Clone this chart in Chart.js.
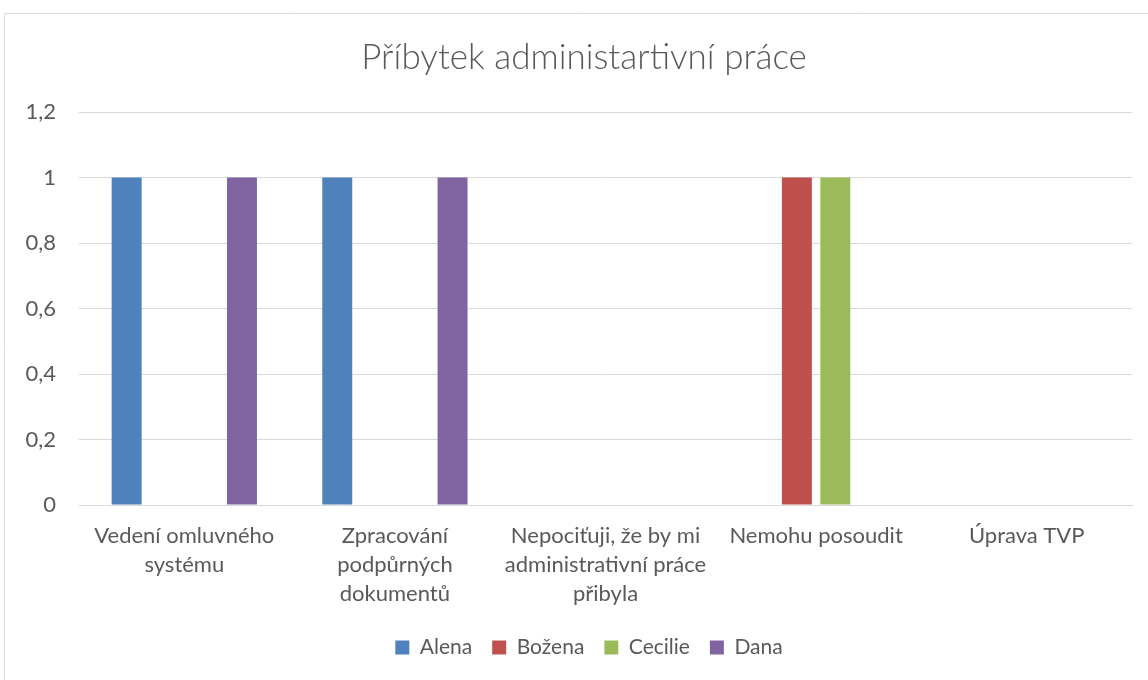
<!DOCTYPE html>
<html>
<head>
<meta charset="utf-8">
<script src="https://cdn.jsdelivr.net/npm/chart.js@4.4.1/dist/chart.umd.min.js"></script>
<style>
  html, body { margin: 0; padding: 0; background: #ffffff; }
  #wrap { position: relative; width: 1148px; height: 680px; }
  canvas { display: block; }
</style>
</head>
<body>
<div id="wrap"><canvas id="c" width="1148" height="680"></canvas></div>
<script>
// ---- data ----
const chartTitle = 'Příbytek administartivní práce';
const categories = [
  ['Vedení omluvného', 'systému'],
  ['Zpracování', 'podpůrných', 'dokumentů'],
  ['Nepociťuji, že by mi', 'administrativní práce', 'přibyla'],
  ['Nemohu posoudit'],
  ['Úprava TVP']
];
const seriesNames = ['Alena', 'Božena', 'Cecilie', 'Dana'];
const alena   = [1, 1, 0, 0, 0];
const bozena  = [0, 0, 0, 1, 0];
const cecilie = [0, 0, 0, 1, 0];
const dana    = [1, 1, 0, 0, 0];
const yMin = 0, yMax = 1.2, yStep = 0.2;

const colors = ['#4f81bd', '#c0504d', '#9bbb59', '#8064a2'];
const seriesValues = [alena, bozena, cecilie, dana];
const textColor = '#595959';
const gridColor = '#d9d9d9';
const fontFamily = 'Lato, "Open Sans", sans-serif';

const borderPlugin = {
  id: 'outerBorder',
  beforeDraw(chart) {
    const ctx = chart.ctx;
    ctx.save();
    ctx.fillStyle = '#ffffff';
    ctx.fillRect(0, 0, chart.width, chart.height);
    ctx.strokeStyle = gridColor;
    ctx.lineWidth = 1;
    ctx.beginPath();
    ctx.moveTo(chart.width + 2, 13.5);
    ctx.lineTo(4.5, 13.5);
    ctx.lineTo(4.5, chart.height + 2);
    ctx.stroke();
    ctx.restore();
  }
};

// Excel places title and legend slightly right of the canvas centre
const shiftPlugin = {
  id: 'shiftBoxes',
  afterLayout(chart) {
    if (chart.titleBlock) { chart.titleBlock.left += 16; chart.titleBlock.right += 16; }
    if (chart.legend) { chart.legend.left += 21; chart.legend.right += 21; }
  }
};

new Chart(document.getElementById('c'), {
  type: 'bar',
  data: {
    labels: categories,
    datasets: seriesNames.map((n, i) => ({
      label: n,
      data: seriesValues[i],
      backgroundColor: colors[i],
      borderWidth: 0,
      categoryPercentage: 0.73,
      barPercentage: 0.78
    }))
  },
  options: {
    responsive: false,
    animation: false,
    layout: { padding: { left: 4, right: 16, top: 0, bottom: 12 } },
    plugins: {
      title: {
        display: true,
        text: chartTitle,
        color: textColor,
        font: { family: fontFamily, size: 35, weight: '300' },
        padding: { top: 37, bottom: 33 }
      },
      legend: {
        position: 'bottom',
        labels: {
          color: textColor,
          font: { family: fontFamily, size: 21 },
          boxWidth: 14,
          boxHeight: 14,
          padding: 20
        }
      },
      tooltip: { enabled: false }
    },
    scales: {
      x: {
        grid: { display: false, drawTicks: false },
        border: { display: true, color: gridColor, width: 1 },
        ticks: {
          color: textColor,
          font: { family: fontFamily, size: 22, lineHeight: 1.32 },
          padding: 16,
          maxRotation: 0,
          autoSkip: false
        },
        afterFit(scale) { scale.height = 112; }
      },
      y: {
        min: yMin,
        max: yMax,
        grid: { color: gridColor, lineWidth: 1, drawTicks: false },
        border: { display: false },
        ticks: {
          stepSize: yStep,
          color: textColor,
          font: { family: fontFamily, size: 22 },
          padding: 23,
          callback: (v) => String(Number(v.toFixed(1))).replace('.', ',')
        },
        afterFit(scale) { scale.width = 75; }
      }
    }
  },
  plugins: [borderPlugin, shiftPlugin]
});
</script>
</body>
</html>
